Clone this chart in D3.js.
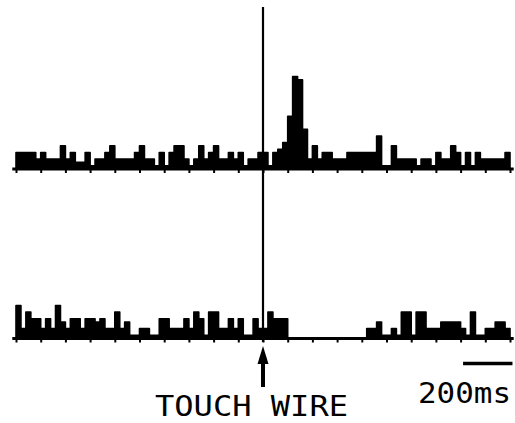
<!DOCTYPE html>
<html>
<head>
<meta charset="utf-8">
<script src="https://cdn.jsdelivr.net/npm/d3@7"></script>
<style>
  html, body { margin: 0; padding: 0; background: #fff; }
  svg { display: block; }
  text { font-family: "DejaVu Sans Mono", monospace; fill: #000; }
</style>
</head>
<body>
<svg id="chart" width="515" height="423"></svg>
<script>
// Peri-event histograms, 20 ms bins from -1000 ms to +1000 ms around the touch.
const binWidth = 20;
const binStarts = d3.range(-1000, 1000, binWidth);

// Spike counts per bin, upper record
const upperCounts = [
  5, 5, 5, 5, 3, 5, 3, 3, 3, 7,
  3, 5, 2, 2, 5, 1, 3, 3, 5, 7,
  3, 3, 3, 3, 5, 7, 3, 3, 1, 5,
  1, 5, 7, 7, 3, 1, 3, 7, 3, 5,
  7, 3, 3, 5, 3, 5, 1, 3, 3, 5,
  5, 1, 5, 6, 8, 16, 28, 27, 12, 3,
  7, 3, 5, 5, 3, 3, 3, 5, 5, 5,
  5, 5, 5, 10, 1, 1, 7, 3, 3, 3,
  3, 1, 3, 3, 1, 5, 3, 3, 7, 5,
  1, 5, 1, 5, 3, 3, 3, 3, 3, 5
];

// Spike counts per bin, lower record
const lowerCounts = [
  10, 3, 8, 6, 6, 3, 6, 3, 10, 5,
  3, 6, 6, 3, 6, 6, 5, 6, 3, 3,
  8, 3, 5, 1, 1, 3, 3, 1, 1, 6,
  6, 3, 3, 3, 6, 3, 8, 6, 1, 8,
  8, 3, 3, 6, 3, 6, 1, 1, 6, 3,
  3, 8, 6, 6, 6, 0, 0, 0, 0, 0,
  0, 0, 0, 0, 0, 0, 0, 0, 0, 0,
  0, 3, 3, 5, 1, 1, 3, 1, 8, 8,
  1, 8, 8, 3, 3, 3, 5, 5, 5, 5,
  3, 1, 8, 1, 1, 3, 3, 5, 5, 3
];

const tickTimes = d3.range(-1000, 1001, 100);
const scaleBarMs = [810, 1010];
const eventLabel = "TOUCH WIRE";
const scaleLabel = "200ms";

const svg = d3.select("#chart");

const x = d3.scaleLinear().domain([-1000, 1000]).range([16, 510]);
const unitPx = 3.3;

function drawTrace(counts, baseY) {
  const y = d3.scaleLinear().domain([0, 30]).range([baseY, baseY - 30 * unitPx]);
  const g = svg.append("g");

  const pts = binStarts.map((t, i) => ({ t, v: counts[i] }));
  pts.push({ t: 1000, v: counts[counts.length - 1] });

  const area = d3.area()
    .curve(d3.curveStepAfter)
    .x(d => x(d.t))
    .y0(y(0))
    .y1(d => y(d.v));

  g.append("path")
    .attr("d", area(pts))
    .attr("fill", "#000")
    .attr("stroke", "#000")
    .attr("stroke-width", 1.6)
    .attr("stroke-linejoin", "round");

  // baseline
  g.append("line")
    .attr("x1", x(-1015)).attr("x2", x(1015))
    .attr("y1", y(0)).attr("y2", y(0))
    .attr("stroke", "#000").attr("stroke-width", 3);

  // 100 ms ticks below the baseline
  const axis = d3.axisBottom(x).tickValues(tickTimes).tickSize(4).tickFormat("");
  const ag = g.append("g").attr("transform", `translate(0,${y(0)})`).call(axis);
  ag.select(".domain").remove();
  ag.selectAll(".tick line").attr("stroke", "#000").attr("stroke-width", 2);
}

drawTrace(upperCounts, 169);
drawTrace(lowerCounts, 338.5);

// event marker
svg.append("line")
  .attr("x1", x(0)).attr("x2", x(0))
  .attr("y1", 7).attr("y2", 342)
  .attr("stroke", "#000").attr("stroke-width", 2.2);

// arrow pointing up at the event
const ax = x(0);
svg.append("line")
  .attr("x1", ax).attr("x2", ax)
  .attr("y1", 358).attr("y2", 387)
  .attr("stroke", "#000").attr("stroke-width", 4);
svg.append("path")
  .attr("d", `M${ax},346 L${ax + 5.5},364 L${ax - 5.5},364 Z`)
  .attr("fill", "#000");

// time scale bar
svg.append("line")
  .attr("x1", x(scaleBarMs[0])).attr("x2", x(scaleBarMs[1]))
  .attr("y1", 363.5).attr("y2", 363.5)
  .attr("stroke", "#000").attr("stroke-width", 3.5);

svg.append("text")
  .attr("x", 418).attr("y", 403)
  .attr("font-size", 28)
  .attr("textLength", 93).attr("lengthAdjust", "spacingAndGlyphs")
  .text(scaleLabel);

svg.append("text")
  .attr("x", 155).attr("y", 416)
  .attr("font-size", 28)
  .attr("textLength", 193).attr("lengthAdjust", "spacingAndGlyphs")
  .text(eventLabel);
</script>
</body>
</html>
